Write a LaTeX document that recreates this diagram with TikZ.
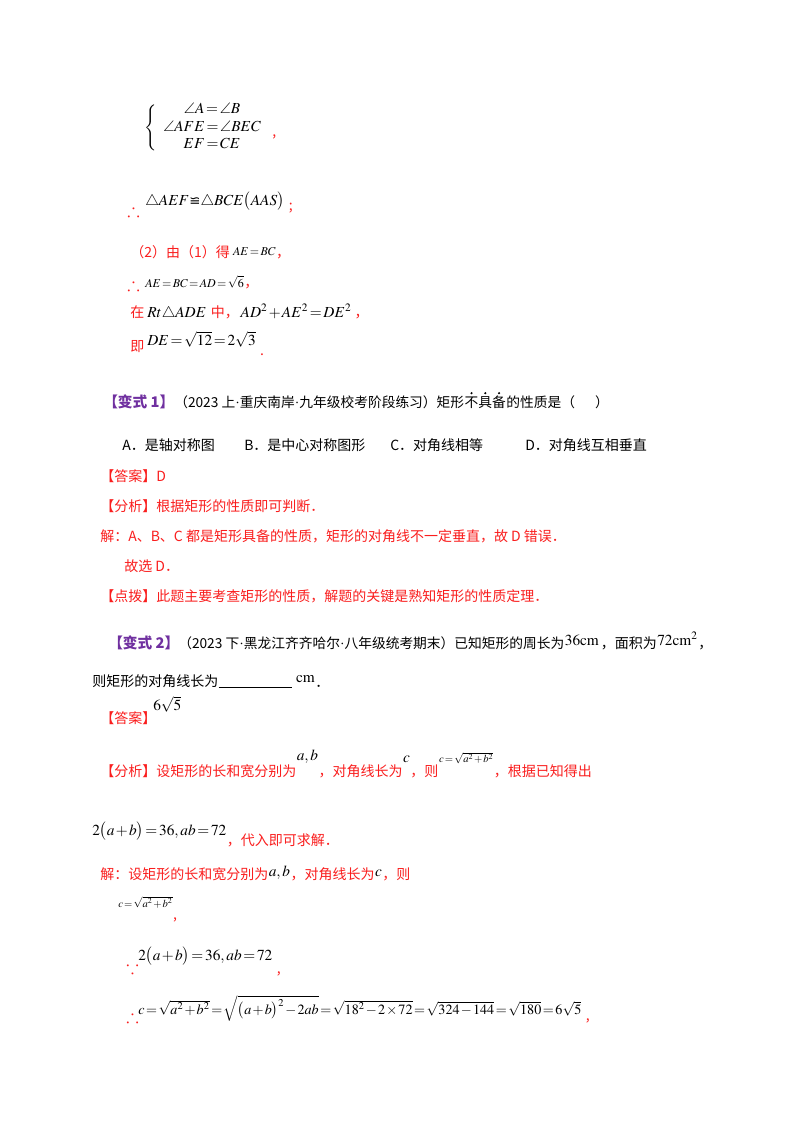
\documentclass[tikz,border=0pt]{standalone}
\usetikzlibrary{calc}
\usepackage{amsmath,amssymb}
\usepackage{mathptmx}
\usepackage{fontspec}
\setmainfont{Noto Sans CJK SC}
\newfontfamily\djv{DejaVu Sans}
\newfontfamily\tms{Liberation Serif}
\definecolor{rd}{RGB}{250,30,30}
\definecolor{pu}{RGB}{112,48,160}
\thickmuskip=2mu plus 1mu
\medmuskip=1.5mu plus 1mu
\begin{document}
\begin{tikzpicture}[x=0.75pt,y=-0.75pt,
  t/.style={anchor=base west,inner sep=0pt,font=\fontsize{10.5}{12}\selectfont},
  r/.style={t,text=rd},
  p/.style={t,text=pu,font=\fontsize{11}{12}\bfseries\selectfont},
  m/.style={t,font=\fontsize{11.5}{12}\selectfont},
  sm/.style={t,font=\fontsize{9}{10}\selectfont},
  tn/.style={t,font=\fontsize{8}{9}\selectfont},
  ds/.style={r,font=\fontsize{14}{14}\selectfont}]
\useasboundingbox (0,0) rectangle (800,1132);
\fill[white] (0,0) rectangle (800,1132);
% system
\node[m,anchor=west] (sys) at (144,128) {$\left\{\begin{array}{c}\angle A=\angle B\\[1pt] \angle AFE=\angle BEC\\[1pt] EF=CE\end{array}\right.$};
\node[r] (c1) at ([xshift=2pt,yshift=-6pt]sys.east) {,};
\node[ds] (th1) at (127,216) {$\therefore$};
\node[m] (cong) at (145,205) {$\triangle AEF${\djv\fontsize{10}{10}\selectfont ≌}$\triangle BCE\bigl(AAS\bigr)$};
\node[r] (sc1) at ([xshift=3pt,yshift=-4pt]cong.base east) {;};
\node[r] (l2) at (130,257) {（2）由（1）得};
\node[sm] (l2m) at ([xshift=2pt,yshift=1pt]l2.base east) {$AE=BC$};
\node[r] (l2c) at ([yshift=-1pt]l2m.base east) {，};
\node[ds] (th2) at (127,290) {$\therefore$};
\node[sm] (l3m) at (145,287) {$AE=BC=AD=\sqrt6$};
\node[r] (l3c) at (l3m.base east) {，};
\node[r] (l4) at (130,317) {在};
\node[m] (l4m) at ([xshift=2pt]l4.base east) {$Rt\triangle ADE$};
\node[r] (l4b) at ([xshift=3pt]l4m.base east) {中，};
\node[m] (l4n) at ([xshift=1pt]l4b.base east) {$AD^2+AE^2=DE^2$};
\node[r] (l4c) at ([xshift=2pt]l4n.base east) {，};
\node[r] (l5) at (130,351) {即};
\node[m] (l5m) at (147,345) {$DE=\sqrt{12}=2\sqrt3$};
\node[r] (l5c) at ([xshift=3pt,yshift=-8pt]l5m.base east) {.};
% variant 1
\node[p] (v1) at (103,407) {【变式 1】};
\node[t,font=\fontsize{10.3}{12}\selectfont] (v1t) at (174,407) {（2023 上{\tms·}重庆南岸{\tms·}九年级校考阶段练习）矩形};
\node[t,font=\fontsize{10.3}{12}\selectfont] (v1e) at (v1t.base east) {不具备};
\node[t,font=\fontsize{10.3}{12}\selectfont] (v1f) at (v1e.base east) {的性质是（\quad\ \ ）};
\foreach \f in {0.17,0.5,0.83} \fill ($(v1e.north west)!\f!(v1e.north east)+(0,1.5pt)$) circle (1.2);
\node[t] (oa) at (122,450) {A．是轴对称图};
\node[t] (ob) at (244,450) {B．是中心对称图形};
\node[t] (oc) at (390,450) {C．对角线相等};
\node[t] (od) at (525,450) {D．对角线互相垂直};
\node[r] (ans1) at (100,481) {【答案】D};
\node[r] (an1) at (100,511) {【分析】根据矩形的性质即可判断．};
\node[r] (so1) at (100,541) {解：A、B、C 都是矩形具备的性质，矩形的对角线不一定垂直，故 D 错误．};
\node[r] (so1b) at (124,571) {故选 D．};
\node[r] (dp1) at (100,601) {【点拨】此题主要考查矩形的性质，解题的关键是熟知矩形的性质定理．};
% variant 2
\node[p] (v2) at (108,648) {【变式 2】};
\node[t,font=\fontsize{10.3}{12}\selectfont] (v2t) at (178,648) {（2023 下{\tms·}黑龙江齐齐哈尔{\tms·}八年级统考期末）已知矩形的周长为};
\node[m] (v2m) at ([yshift=2pt]v2t.base east) {$\mathrm{36cm}$};
\node[t] (v2b) at ([yshift=-2pt,xshift=1pt]v2m.base east) {，面积为};
\node[m] (v2n) at ([yshift=2pt]v2b.base east) {$\mathrm{72cm}^2$};
\node[t] (v2c) at ([yshift=-2pt]v2n.base east) {，};
\node[t] (v2d) at (92,686) {则矩形的对角线长为};
\coordinate (u1) at ([yshift=-1pt]v2d.base east);
\coordinate (u2) at ([xshift=55]u1);
\draw[thick] (u1) -- (u2);
\node[m] (v2e) at ([xshift=3pt,yshift=4pt]u2) {$\mathrm{cm}$};
\node[t] (v2f) at ([yshift=-4pt]v2e.base east) {．};
\node[r] (ans2) at (100,723) {【答案】};
\node[m] (ans2m) at (153,710) {$6\sqrt5$};
\node[r] (an2) at (100,776) {【分析】设矩形的长和宽分别为};
\node[m] (an2a) at ([yshift=12]an2.base east) {$a,b$};
\node[r] (an2b) at ([yshift=-12]an2a.base east) {，对角线长为};
\node[m] (an2c) at ([yshift=10]an2b.base east) {$c$};
\node[r] (an2d) at ([yshift=-10]an2c.base east) {，则};
\node[tn] (an2e) at ([yshift=10]an2d.base east) {$c=\sqrt{a^2+b^2}$};
\node[r] (an2f) at ([yshift=-10]an2e.base east) {，根据已知得出};
\node[m] (an2g) at (92,835) {$2\bigl(a+b\bigr)=36,ab=72$};
\node[r] (an2h) at ([yshift=-8]an2g.base east) {，代入即可求解．};
\node[r] (so2) at (100,879) {解：设矩形的长和宽分别为};
\node[m] (so2a) at ([yshift=2]so2.base east) {$a,b$};
\node[r] (so2b) at ([yshift=-2]so2a.base east) {，对角线长为};
\node[m] (so2c) at ([yshift=2]so2b.base east) {$c$};
\node[r] (so2d) at ([yshift=-2]so2c.base east) {，则};
\node[tn] (so2e) at (118,907) {$c=\sqrt{a^2+b^2}$};
\node[r] (so2f) at ([yshift=-9]so2e.base east) {,};
\node[ds] (be) at (126,973) {$\because$};
\node[m] (bem) at (138,960) {$2\bigl(a+b\bigr)=36,ab=72$};
\node[r] (bec) at ([xshift=3,yshift=-10]bem.base east) {,};
\node[ds] (th3) at (126,1022) {$\therefore$};
\node[m,font=\fontsize{10.6}{12}\selectfont] (th3m) at (138,1014) {$c=\sqrt{a^2+b^2}=\sqrt{\bigl(a+b\bigr)^2-2ab}=\sqrt{18^2-2\times72}=\sqrt{324-144}=\sqrt{180}=6\sqrt5$};
\node[r] (th3c) at ([xshift=3,yshift=-5]th3m.base east) {,};
\end{tikzpicture}
\end{document}
